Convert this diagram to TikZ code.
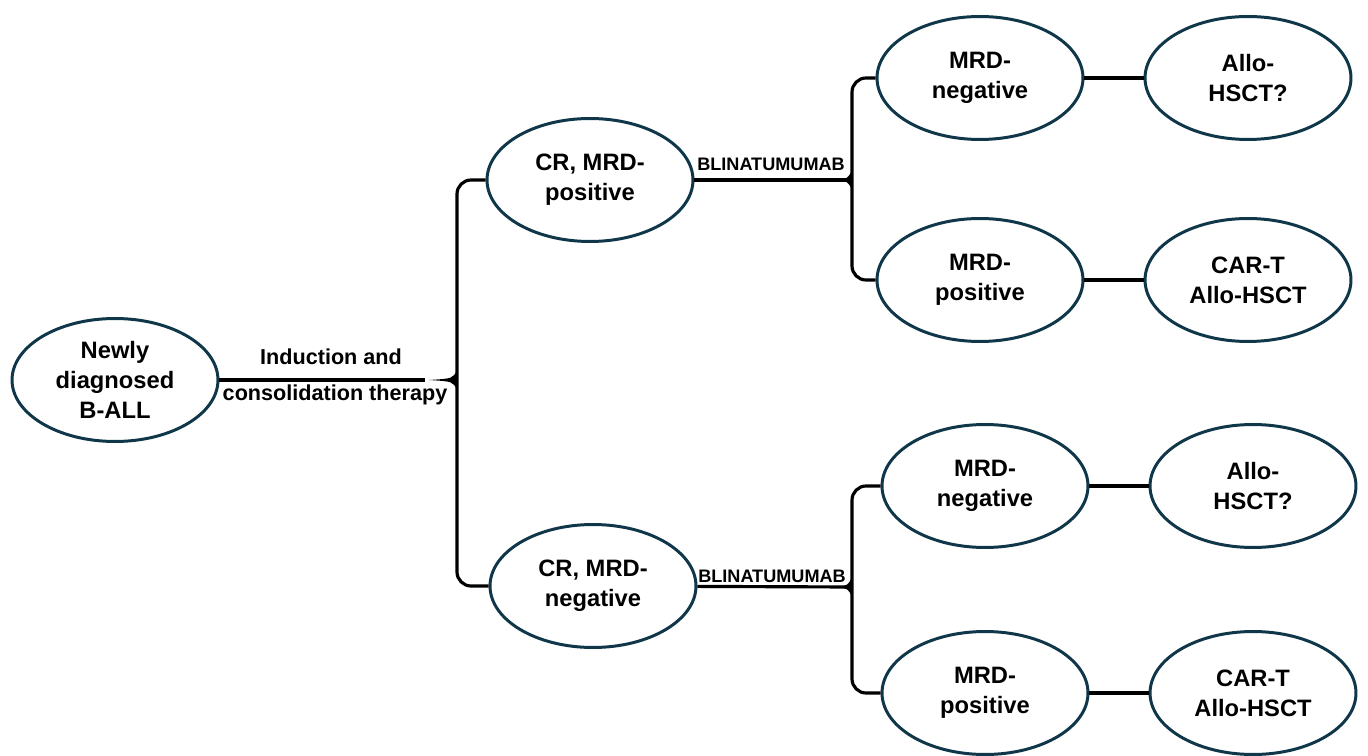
\documentclass[tikz,border=0pt]{standalone}
\usepackage{fontspec}
\setmainfont{Liberation Sans}
\usepackage{xcolor}
\usetikzlibrary{shapes.geometric,calc}
\definecolor{ringblue}{HTML}{0F3649}

\begin{document}
\begin{tikzpicture}[
  x=0.02cm, y=-0.02cm,
  ell/.style={draw=ringblue, line width=1.7pt, ellipse, minimum width=4.12cm, minimum height=2.46cm, inner sep=0pt, align=center, font=\fontsize{13.5}{17}\selectfont\bfseries},
  conn/.style={line width=1.8pt, black},
  lbl/.style={font=\fontsize{12.3}{15}\selectfont\bfseries, inner sep=0pt},
  drug/.style={font=\fontsize{10.3}{12}\selectfont\bfseries, inner sep=0pt},
]
  \useasboundingbox (0,0) rectangle (1368,756);

  % Start
  \node[ell] (newly) at (115,380) {Newly\\diagnosed\\B-ALL};

  % First response
  \node[ell] (crpos) at (590,180) {CR, MRD-\\positive};
  \node[ell] (crneg) at (593,586) {CR, MRD-\\negative};

  % After blinatumomab, upper branch
  \node[ell] (negA) at (980,78) {MRD-\\negative};
  \node[ell] (posA) at (980,280) {MRD-\\positive};
  \node[ell] (alloA) at (1248,78) {Allo-\\HSCT?};
  \node[ell] (cartA) at (1248,280) {CAR-T\\Allo-HSCT};

  % After blinatumomab, lower branch
  \node[ell] (negB) at (985,486) {MRD-\\negative};
  \node[ell] (posB) at (985,693) {MRD-\\positive};
  \node[ell] (alloB) at (1253,486) {Allo-\\HSCT?};
  \node[ell] (cartB) at (1253,693) {CAR-T\\Allo-HSCT};

  % Middle points of the braces
  \coordinate (mid1) at (457,380);
  \coordinate (mid2) at (852,180);
  \coordinate (mid3) at (852,587);

  % Braces
  \draw[conn, rounded corners=8pt] (crpos.west) -| (mid1) |- (crneg.west);
  \draw[conn, rounded corners=8pt] (negA.west) -| (mid2) |- (posA.west);
  \draw[conn, rounded corners=8pt] (negB.west) -| (mid3) |- (posB.west);
  \foreach \m/\w in {mid1/28, mid2/16, mid3/16}
    \fill ($(\m)+(-\w,0)$) .. controls ($(\m)+(-4,-1.5)$) .. ($(\m)+(0,-10)$)
      -- ($(\m)+(0,10)$) .. controls ($(\m)+(-4,1.5)$) .. cycle;

  % Lines into the braces
  \draw[conn] (newly) -- ($(mid1)+(-32,0)$);
  \draw[conn] (crpos) -- (mid2);
  \draw[conn] (crneg) -- (mid3);

  % Last step
  \draw[conn] (negA) -- (alloA);
  \draw[conn] (posA) -- (cartA);
  \draw[conn] (negB) -- (alloB);
  \draw[conn] (posB) -- (cartB);

  % Labels
  \node[lbl] (ind) at (331,357) {Induction and};
  \node[lbl] (cons) at (335,395) {consolidation therapy};
  \node[drug] (blinA) at (771,164) {BLINATUMUMAB};
  \node[drug] (blinB) at (772,576) {BLINATUMUMAB};
\end{tikzpicture}
\end{document}
